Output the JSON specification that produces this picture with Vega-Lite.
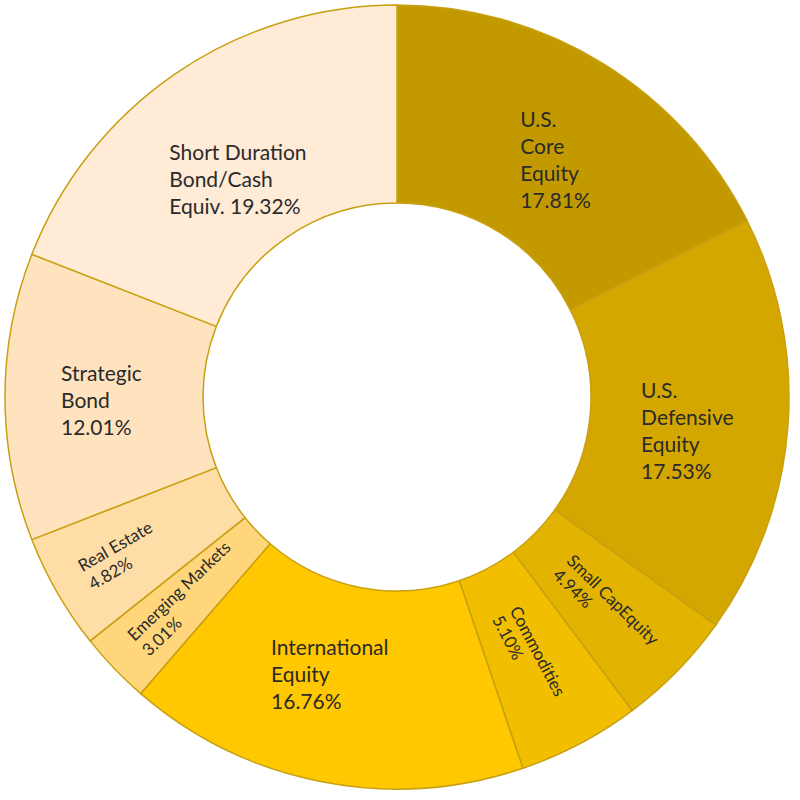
{
  "$schema": "https://vega.github.io/schema/vega-lite/v6.json",
  "autosize": {"type": "fit", "contains": "padding"},
  "width": 800,
  "height": 800,
  "padding": {"left": 0, "top": 0, "right": 6, "bottom": 6},
  "background": "white",
  "config": {"view": {"stroke": null}, "text": {"font": "Lato", "fontWeight": 400, "color": "#2a2a2a"}},
  "data": {
    "values": [
      {"rank": 1, "name": "U.S. Core Equity", "pct": 17.81, "label": "U.S.\nCore\nEquity\n17.81%"},
      {"rank": 2, "name": "U.S. Defensive Equity", "pct": 17.53, "label": "U.S.\nDefensive\nEquity\n17.53%"},
      {"rank": 3, "name": "Small CapEquity", "pct": 4.94, "label": "Small  CapEquity\n4.94%"},
      {"rank": 4, "name": "Commodities", "pct": 5.10, "label": "Commodities\n5.10%"},
      {"rank": 5, "name": "International Equity", "pct": 16.76, "label": "International\nEquity\n16.76%"},
      {"rank": 6, "name": "Emerging Markets", "pct": 3.01, "label": "Emerging Markets\n3.01%"},
      {"rank": 7, "name": "Real Estate", "pct": 4.82, "label": "Real Estate\n4.82%"},
      {"rank": 8, "name": "Strategic Bond", "pct": 12.01, "label": "Strategic\nBond\n12.01%"},
      {"rank": 9, "name": "Short Duration Bond/Cash Equiv.", "pct": 19.32, "label": "Short Duration\nBond/Cash\nEquiv. 19.32%"}
    ]
  },
  "encoding": {
    "theta": {"field": "pct", "type": "quantitative", "stack": true},
    "order": {"field": "rank", "type": "quantitative"}
  },
  "layer": [
    {
      "mark": {"type": "arc", "innerRadius": 194, "outerRadius": 392, "stroke": "#C9A010", "strokeWidth": 1.5},
      "encoding": {
        "color": {
          "field": "name", "type": "nominal", "legend": null,
          "scale": {
            "domain": ["U.S. Core Equity", "U.S. Defensive Equity", "Small CapEquity", "Commodities", "International Equity", "Emerging Markets", "Real Estate", "Strategic Bond", "Short Duration Bond/Cash Equiv."],
            "range": ["#C29A00", "#D4A700", "#E2B300", "#F1BF00", "#FFC800", "#FFD67C", "#FFDDA6", "#FFE3BE", "#FFEBD6"]
          }
        }
      }
    },
    {
      "mark": {"type": "text", "radius": 292, "align": "left", "baseline": "alphabetic", "fontSize": 21, "lineHeight": 27, "lineBreak": "\n", "dx": -30, "dy": -21},
      "encoding": {"text": {"condition": {"test": "datum.rank === 1", "field": "label", "type": "nominal"}, "value": ""}}
    },
    {
      "mark": {"type": "text", "radius": 292, "align": "left", "baseline": "alphabetic", "fontSize": 21, "lineHeight": 27, "lineBreak": "\n", "dx": -47, "dy": -22},
      "encoding": {"text": {"condition": {"test": "datum.rank === 2", "field": "label", "type": "nominal"}, "value": ""}}
    },
    {
      "mark": {"type": "text", "radius": 292, "align": "left", "baseline": "alphabetic", "fontSize": 17, "lineHeight": 20, "lineBreak": "\n", "angle": 44.4, "dx": -56, "dy": 0},
      "encoding": {"text": {"condition": {"test": "datum.rank === 3", "field": "label", "type": "nominal"}, "value": ""}}
    },
    {
      "mark": {"type": "text", "radius": 292, "align": "left", "baseline": "alphabetic", "fontSize": 17, "lineHeight": 20, "lineBreak": "\n", "angle": 62.2, "dx": -51, "dy": 0},
      "encoding": {"text": {"condition": {"test": "datum.rank === 4", "field": "label", "type": "nominal"}, "value": ""}}
    },
    {
      "mark": {"type": "text", "radius": 292, "align": "left", "baseline": "alphabetic", "fontSize": 21, "lineHeight": 27, "lineBreak": "\n", "dx": -70, "dy": -29},
      "encoding": {"text": {"condition": {"test": "datum.rank === 5", "field": "label", "type": "nominal"}, "value": ""}}
    },
    {
      "mark": {"type": "text", "radius": 292, "align": "left", "baseline": "alphabetic", "fontSize": 17, "lineHeight": 21, "lineBreak": "\n", "angle": -43.8, "dx": -67, "dy": -5},
      "encoding": {"text": {"condition": {"test": "datum.rank === 6", "field": "label", "type": "nominal"}, "value": ""}}
    },
    {
      "mark": {"type": "text", "radius": 292, "align": "left", "baseline": "alphabetic", "fontSize": 17, "lineHeight": 21, "lineBreak": "\n", "angle": -29.9, "dx": -68, "dy": -5},
      "encoding": {"text": {"condition": {"test": "datum.rank === 7", "field": "label", "type": "nominal"}, "value": ""}}
    },
    {
      "mark": {"type": "text", "radius": 292, "align": "left", "baseline": "alphabetic", "fontSize": 21, "lineHeight": 27, "lineBreak": "\n", "dx": -44, "dy": -16},
      "encoding": {"text": {"condition": {"test": "datum.rank === 8", "field": "label", "type": "nominal"}, "value": ""}}
    },
    {
      "mark": {"type": "text", "radius": 292, "align": "left", "baseline": "alphabetic", "fontSize": 21, "lineHeight": 27, "lineBreak": "\n", "dx": -63, "dy": 4},
      "encoding": {"text": {"condition": {"test": "datum.rank === 9", "field": "label", "type": "nominal"}, "value": ""}}
    }
  ]
}
